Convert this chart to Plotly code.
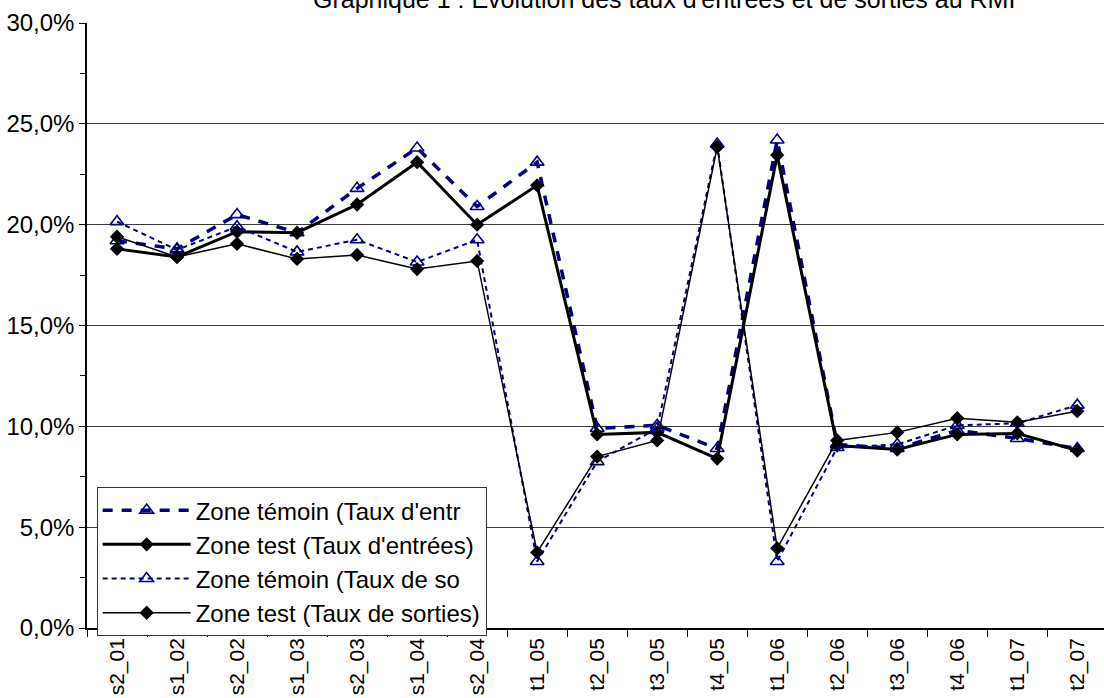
import plotly.graph_objects as go

categories = ["s2_01", "s1_02", "s2_02", "s1_03", "s2_03", "s1_04", "s2_04",
              "t1_05", "t2_05", "t3_05", "t4_05", "t1_06", "t2_06", "t3_06",
              "t4_06", "t1_07", "t2_07"]

# values in percent
temoin_entrees = [19.2, 18.8, 20.5, 19.6, 21.8, 23.8, 20.9, 23.1, 9.9, 10.05,
                  8.9, 24.2, 9.1, 8.9, 9.8, 9.4, 8.9]
test_entrees = [18.8, 18.4, 19.65, 19.6, 21.0, 23.1, 20.0, 21.95, 9.6, 9.7,
                8.4, 23.45, 9.05, 8.85, 9.6, 9.65, 8.8]
temoin_sorties = [20.15, 18.75, 19.9, 18.65, 19.25, 18.15, 19.25, 3.3, 8.25, 9.9,
                  24.0, 3.3, 8.95, 9.1, 10.05, 10.15, 11.05]
test_sorties = [19.4, 18.4, 19.05, 18.3, 18.5, 17.8, 18.2, 3.75, 8.5, 9.3,
                23.85, 3.95, 9.3, 9.7, 10.4, 10.2, 10.75]

series_names = ["Zone témoin (Taux d'entr", "Zone test (Taux d'entrées)",
                "Zone témoin (Taux de so", "Zone test (Taux de sorties)"]

title_text = "Graphique 1 : Evolution des taux d'entrées et de sorties au RMI"

NAVY = "#000080"
FONT = "Liberation Sans, Arial, sans-serif"

def frac(vals):
    return [v / 100 for v in vals]

fig = go.Figure()
fig.add_trace(go.Scatter(
    x=categories, y=frac(temoin_entrees), name=series_names[0], mode="lines+markers",
    line=dict(color=NAVY, width=3.5, dash="10px,9px"),
    marker=dict(symbol="triangle-up-open", size=12, color=NAVY, line=dict(width=1.6, color=NAVY))))
fig.add_trace(go.Scatter(
    x=categories, y=frac(test_entrees), name=series_names[1], mode="lines+markers",
    line=dict(color="black", width=3),
    marker=dict(symbol="diamond", size=11, color="black")))
fig.add_trace(go.Scatter(
    x=categories, y=frac(temoin_sorties), name=series_names[2], mode="lines+markers",
    line=dict(color=NAVY, width=2, dash="5px,4px"),
    marker=dict(symbol="triangle-up-open", size=12, color=NAVY, line=dict(width=1.6, color=NAVY))))
fig.add_trace(go.Scatter(
    x=categories, y=frac(test_sorties), name=series_names[3], mode="lines+markers",
    line=dict(color="black", width=1.5),
    marker=dict(symbol="diamond", size=11, color="black")))

fig.update_layout(
    width=1104, height=698,
    margin=dict(l=87, r=0, t=23, b=70),
    paper_bgcolor="white", plot_bgcolor="white",
    separators=", ",
    font=dict(family=FONT, color="black"),
    showlegend=True,
    legend=dict(x=0.0095, y=0.233, xanchor="left", yanchor="top",
                bgcolor="white", bordercolor="#333333", borderwidth=1,
                font=dict(size=24, family=FONT, color="black"),
                itemwidth=88, tracegroupgap=0),
    annotations=[dict(text=title_text, xref="paper", yref="paper",
                      x=0.567, y=1.040, xanchor="center", yanchor="middle",
                      showarrow=False,
                      font=dict(size=25, family=FONT, color="black"))],
)

fig.update_xaxes(
    type="category", range=[-0.5, 16.445], automargin=False,
    showline=True, linecolor="black", linewidth=1.5,
    ticks="outside", ticklen=7, tickcolor="black", tickson="boundaries",
    tickangle=-90, tickfont=dict(size=21, family=FONT, color="black"),
    showgrid=False, zeroline=False)

fig.update_yaxes(
    range=[0, 0.30], dtick=0.05, tick0=0, tickformat=".1%", automargin=False,
    showline=True, linecolor="black", linewidth=1.5,
    ticks="outside", ticklen=6, tickcolor="black",
    tickfont=dict(size=24, family=FONT, color="black"),
    showgrid=True, gridcolor="#3a3a3a", gridwidth=1, zeroline=False,
    minor=dict(dtick=0.025, ticks="outside", ticklen=5, tickcolor="black", showgrid=False))

fig.write_html("out.html", config={"displayModeBar": False},
               post_script="document.body.style.margin='0';document.body.style.overflow='hidden';")
